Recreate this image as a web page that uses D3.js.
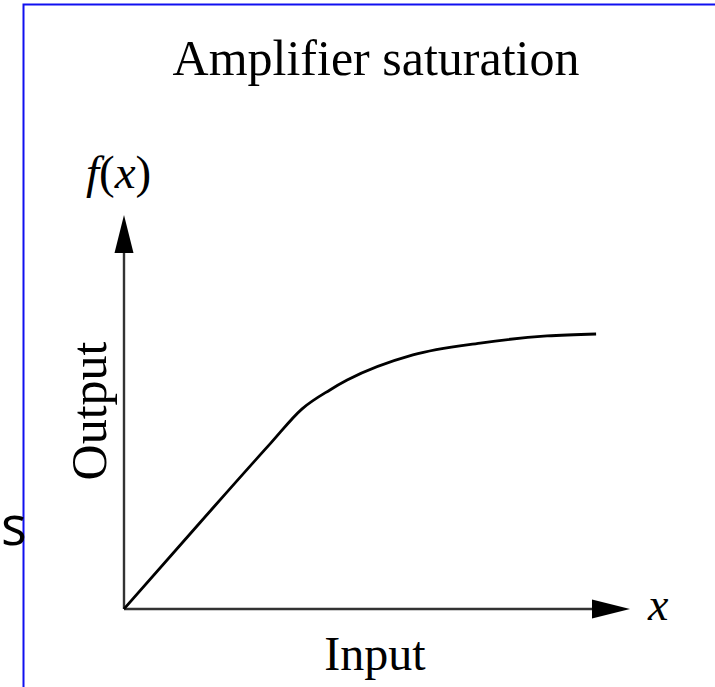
<!DOCTYPE html>
<html>
<head>
<meta charset="utf-8">
<script src="https://cdn.jsdelivr.net/npm/d3@7"></script>
<style>
  html, body { margin: 0; padding: 0; background: #fff; overflow: hidden; }
  svg text { font-family: "Liberation Serif", "Times New Roman", serif; fill: #000; }
</style>
</head>
<body>
<svg id="vis-svg"></svg>
<script>
// Curve (axis units 0..10 on both axes)
const inputX  = [0, 1.5, 2.9, 3.52, 4.07, 4.41, 5.71, 7.04, 8.36, 9.33];
const outputY = [0, 2.19, 4.21, 5.08, 5.56, 5.81, 6.45, 6.75, 6.93, 6.98];

const title = "Amplifier saturation";
const xLabel = "Input";
const yLabel = "Output";

const width = 715;
const height = 687;

const svg = d3.select("#vis-svg")
  .attr("width", width)
  .attr("height", height);

// Frame around the slide figure
svg.append("rect")
  .attr("x", 23.5)
  .attr("y", 4.5)
  .attr("width", 760)
  .attr("height", 760)
  .attr("fill", "none")
  .attr("stroke", "#1010f0")
  .attr("stroke-width", 2);

// Stray letter left of the frame
svg.append("text")
  .attr("x", 1)
  .attr("y", 545)
  .style("font-family", "'Open Sans', sans-serif")
  .style("font-size", "54px")
  .text("s");

const x = d3.scaleLinear().domain([0, 10]).range([124, 630]);
const y = d3.scaleLinear().domain([0, 10]).range([609, 215]);

const axisColor = "#333";
const arrowLen = 38;
const arrowHalf = 9.5;

// Axis lines
svg.append("line")
  .attr("x1", x(0)).attr("y1", y(0))
  .attr("x2", x(10) - arrowLen + 2).attr("y2", y(0))
  .attr("stroke", axisColor).attr("stroke-width", 2.4);

svg.append("line")
  .attr("x1", x(0)).attr("y1", y(0))
  .attr("x2", x(0)).attr("y2", y(10) + arrowLen - 2)
  .attr("stroke", axisColor).attr("stroke-width", 2.4);

// Arrow heads
svg.append("path")
  .attr("d", `M${x(10)},${y(0)} L${x(10) - arrowLen},${y(0) - arrowHalf} L${x(10) - arrowLen},${y(0) + arrowHalf} Z`)
  .attr("fill", "#000");

svg.append("path")
  .attr("d", `M${x(0)},${y(10)} L${x(0) - arrowHalf},${y(10) + arrowLen} L${x(0) + arrowHalf},${y(10) + arrowLen} Z`)
  .attr("fill", "#000");

// Saturation curve
const line = d3.line()
  .x(d => x(d[0]))
  .y(d => y(d[1]))
  .curve(d3.curveMonotoneX);

svg.append("path")
  .datum(inputX.map((v, i) => [v, outputY[i]]))
  .attr("d", line)
  .attr("fill", "none")
  .attr("stroke", "#000")
  .attr("stroke-width", 2.8)
  .attr("stroke-linejoin", "round");

// Title
svg.append("text")
  .attr("x", 376)
  .attr("y", 75)
  .attr("text-anchor", "middle")
  .style("font-size", "50px")
  .text(title);

// f(x) label at the top of the vertical axis
const fx = svg.append("text")
  .attr("x", 86)
  .attr("y", 188)
  .style("font-size", "47px");
fx.append("tspan").style("font-style", "italic").text("f");
fx.append("tspan").text("(");
fx.append("tspan").style("font-style", "italic").text("x");
fx.append("tspan").text(")");

// x label at the end of the horizontal axis
svg.append("text")
  .attr("x", 648)
  .attr("y", 620)
  .style("font-size", "46px")
  .style("font-style", "italic")
  .text("x");

// Axis titles
svg.append("text")
  .attr("x", 375)
  .attr("y", 670)
  .attr("text-anchor", "middle")
  .style("font-size", "48px")
  .text(xLabel);

svg.append("text")
  .attr("transform", "translate(106,411) rotate(-90)")
  .attr("text-anchor", "middle")
  .style("font-size", "50px")
  .text(yLabel);
</script>
</body>
</html>
